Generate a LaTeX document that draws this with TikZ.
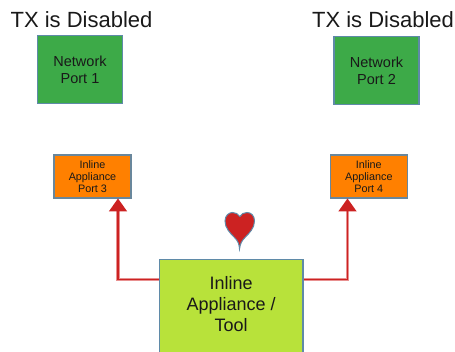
\documentclass[tikz,border=0pt]{standalone}
\usepackage{fontspec}
\setmainfont{Liberation Sans}
\usetikzlibrary{arrows.meta}
\definecolor{edgeb}{HTML}{5F8AA8}
\definecolor{netg}{HTML}{3DAA48}
\definecolor{orng}{HTML}{FF8000}
\definecolor{lime}{HTML}{B8E23A}
\definecolor{redl}{HTML}{CC2222}
\definecolor{redh}{HTML}{E89090}
\tikzset{
 x=1pt,y=-1pt,
 boxn/.style={draw=edgeb,line width=1.3pt,inner sep=0pt,align=center,text=black!90},
 netbox/.style={boxn,fill=netg,minimum width=85pt,minimum height=67.5pt,font=\fontsize{14.5}{16.7}\selectfont},
 portbox/.style={boxn,fill=orng,draw=edgeb!70!gray,minimum width=77pt,minimum height=43pt,font=\fontsize{10.8}{12.3}\selectfont},
 toolbox/.style={boxn,fill=lime,minimum width=143.5pt,minimum height=95pt,font=\fontsize{18}{21}\selectfont},
 title/.style={font=\fontsize{22}{24}\selectfont,text=black!90,inner sep=0pt},
 halo/.style={draw=redh,line width=3.4pt},
 conn/.style={draw=redl,line width=1.9pt,-{Triangle[width=18pt,length=13pt,color=redl]}},
}
\begin{document}
\begin{tikzpicture}
\useasboundingbox (0,0) rectangle (455,352);
\clip (0,0) rectangle (455,352);
\node[title] (t1) at (81.5,19.5) {TX is Disabled};
\node[title] (t2) at (383,19.5) {TX is Disabled};
\node[netbox] (n1) at (80,69.5) {Network\\Port 1};
\node[netbox] (n2) at (376.5,70.5) {Network\\Port 2};
\node[portbox] (p3) at (92.5,176.5) {Inline\\Appliance\\Port 3};
\node[portbox] (p4) at (368.8,176.5) {Inline\\Appliance\\Port 4};
\node[toolbox] (tool) at (231.2,306.7) {\raisebox{0.5pt}{\begin{tabular}{@{}c@{}}Inline\\Appliance /\\Tool\end{tabular}}};
\coordinate (ls) at (tool.west |- 0,279.5);
\coordinate (rs) at (tool.east |- 0,279.5);
\coordinate (la) at (118,198.5);
\coordinate (ra) at (347.5,198.5);
\draw[halo] (ls) -| ([yshift=-8pt]la);
\draw[halo] (rs) -| ([yshift=-8pt]ra);
\draw[conn] (ls) -| (la);
\draw[conn] (rs) -| (ra);
\coordinate (h) at (239.5,249);
\fill[redl,draw=edgeb,line width=1pt] (h)
 .. controls (239.2,244) and (238,241) .. (234.5,237.5)
 .. controls (230,233) and (225,228) .. (225,221)
 .. controls (225,215.5) and (229,212.5) .. (232.5,212.5)
 .. controls (235.5,212.5) and (238.5,214) .. (239.8,216.5)
 .. controls (241,214) and (244,212.5) .. (247,212.5)
 .. controls (251,212.5) and (254.5,215.5) .. (254.5,221)
 .. controls (254.5,228) and (249.5,233) .. (245,237.5)
 .. controls (241.5,241) and (240.2,244) .. (h) -- cycle;
\end{tikzpicture}
\end{document}
